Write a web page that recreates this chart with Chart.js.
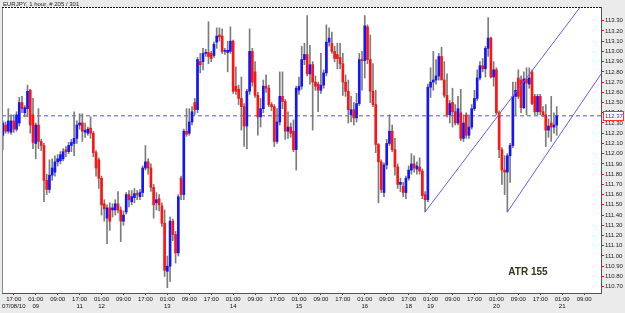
<!DOCTYPE html>
<html>
<head>
<title>EURJPY 1 hour</title>
<script src="https://cdn.jsdelivr.net/npm/chart.js"></script>
<style>
  html, body { margin: 0; padding: 0; background: #ebebeb; }
</style>
</head>
<body>
<canvas id="myChart" width="625" height="313"></canvas>
<script>
// hourly candles, bar 0 = 07/08/10 13:00
const barOpen = [
  112.18,112.28,112.22,112.21,112.32,112.24,112.30,112.50,112.40,112.44,
  112.62,112.38,112.10,112.28,112.12,112.08,111.74,111.65,111.79,111.82,
  111.92,111.93,111.95,112.04,112.02,112.08,112.10,112.15,112.28,112.30,
  112.21,112.20,112.25,112.20,112.01,111.94,111.76,111.51,111.37,111.47,
  111.45,111.45,111.51,111.45,111.34,111.43,111.60,111.53,111.57,111.61,
  111.58,111.62,111.86,111.92,111.86,111.67,111.52,111.56,111.49,111.32,
  110.85,110.90,111.34,111.21,111.03,111.76,111.60,112.22,112.20,112.31,
  112.50,112.43,112.90,112.90,112.98,112.99,112.98,112.96,113.09,113.16,
  113.15,113.00,112.99,113.00,113.10,112.66,112.63,112.54,112.46,112.27,
  112.61,113.00,112.80,112.57,112.36,112.44,112.66,112.64,112.48,112.46,
  112.12,112.31,112.56,112.51,112.22,112.26,112.22,112.04,112.62,112.66,
  112.92,112.97,112.78,112.87,112.70,112.68,112.62,112.67,112.79,113.09,
  113.08,113.00,112.97,112.94,112.88,112.70,112.61,112.38,112.43,112.35,
  112.49,112.92,112.91,113.24,112.92,112.61,112.48,112.09,111.92,111.62,
  111.89,112.10,112.22,112.04,111.87,111.70,111.68,111.62,111.76,111.84,
  111.90,111.85,111.87,111.83,111.60,111.55,112.65,112.70,112.72,112.76,
  112.95,112.72,112.57,112.38,112.50,112.41,112.30,112.40,112.15,112.38,
  112.18,112.26,112.44,112.54,112.74,112.86,112.83,113.03,113.13,112.75,
  112.82,112.40,112.04,111.84,111.82,111.98,112.08,112.56,112.74,112.72,
  112.45,112.73,112.68,112.80,112.56,112.41,112.56,112.41,112.38,112.23,
  112.30,112.26,112.28
];
const barHigh = [
  112.32,112.31,112.44,112.38,112.38,112.41,112.55,112.56,112.47,112.67,
  112.63,112.54,112.30,112.44,112.14,112.10,111.80,111.94,111.95,111.98,
  111.99,112.02,112.05,112.07,112.11,112.14,112.41,112.32,112.39,112.39,
  112.30,112.26,112.36,112.22,112.03,111.96,111.78,111.55,111.50,111.52,
  111.51,111.55,111.63,111.48,111.44,111.62,111.64,111.64,111.66,111.64,
  111.65,111.88,112.08,111.95,111.90,111.70,111.62,111.60,111.52,111.45,
  111.00,111.38,111.36,111.24,111.60,111.78,112.24,112.44,112.44,112.46,
  112.54,112.94,112.98,113.03,113.02,113.29,113.00,113.09,113.23,113.23,
  113.22,113.03,113.10,113.24,113.11,112.85,112.67,112.75,112.49,112.63,
  113.22,113.03,112.90,112.60,112.54,112.72,112.77,112.67,112.50,112.48,
  112.44,112.80,112.80,112.53,112.41,112.30,112.33,112.66,112.75,113.05,
  113.08,113.35,113.06,112.90,112.76,112.70,112.98,112.82,113.26,113.23,
  113.19,113.05,113.08,113.08,112.98,112.77,112.72,112.56,112.50,112.59,
  112.98,113.00,113.35,113.26,113.16,112.88,112.62,112.10,111.94,111.91,
  112.14,112.38,112.28,112.15,111.90,111.76,111.72,111.78,111.88,112.00,
  111.98,111.92,111.96,111.85,111.63,112.68,112.84,113.00,112.92,112.98,
  113.04,112.90,112.78,112.52,112.64,112.48,112.56,112.63,112.38,112.40,
  112.38,112.48,112.62,112.82,112.90,112.93,113.05,113.33,113.14,112.90,
  112.84,112.42,112.06,111.98,112.00,112.10,112.70,112.70,112.82,112.76,
  112.80,112.84,112.84,112.82,112.58,112.58,112.58,112.46,112.48,112.34,
  112.56,112.40,112.46
];
const barLow = [
  112.04,112.20,112.20,112.19,112.21,112.22,112.27,112.40,112.36,112.36,
  112.20,112.05,111.95,112.05,112.03,111.53,111.60,111.62,111.74,111.78,
  111.88,111.90,111.93,111.97,112.00,112.02,111.98,112.10,112.24,112.12,
  112.16,112.18,112.15,111.97,111.78,111.66,111.40,111.34,111.12,111.25,
  111.38,111.40,111.42,111.14,111.30,111.41,111.48,111.50,111.52,111.55,
  111.55,111.58,111.84,111.80,111.63,111.37,111.45,111.44,111.29,110.80,
  110.69,110.75,111.15,110.93,111.00,111.55,111.55,112.17,112.18,112.28,
  112.38,112.40,112.79,112.82,112.95,112.88,112.90,112.94,113.03,113.10,
  112.98,112.97,112.80,112.98,112.59,112.58,112.48,112.23,112.07,112.05,
  112.58,112.66,112.55,112.18,112.26,112.40,112.60,112.46,112.42,112.07,
  112.10,112.28,112.44,112.14,112.15,112.16,112.02,111.84,112.58,112.63,
  112.87,112.76,112.68,112.23,112.62,112.41,112.59,112.64,112.76,113.05,
  112.98,112.90,112.83,112.83,112.57,112.56,112.30,112.31,112.28,112.31,
  112.47,112.62,112.74,112.88,112.50,112.46,112.01,111.52,111.62,111.58,
  111.85,112.08,112.02,111.79,111.66,111.63,111.58,111.56,111.74,111.80,
  111.82,111.80,111.80,111.56,111.43,111.53,112.55,112.62,112.68,112.72,
  112.80,112.55,112.36,112.30,112.26,112.28,112.28,112.13,112.12,112.15,
  112.15,112.24,112.42,112.52,112.72,112.80,112.75,112.95,112.74,112.66,
  112.38,111.96,111.70,111.60,111.43,111.72,112.06,112.38,112.54,112.40,
  112.44,112.38,112.64,112.48,112.38,112.38,112.38,112.36,112.07,112.16,
  112.12,112.20,112.18
];
const barClose = [
  112.30,112.22,112.32,112.32,112.24,112.38,112.50,112.44,112.45,112.61,
  112.28,112.11,112.28,112.12,112.08,111.74,111.65,111.79,111.86,111.92,
  111.95,111.99,112.02,112.02,112.08,112.11,112.15,112.28,112.30,112.22,
  112.23,112.24,112.20,112.01,111.86,111.76,111.50,111.46,111.47,111.34,
  111.47,111.51,111.45,111.34,111.40,111.60,111.55,111.58,111.61,111.60,
  111.62,111.86,111.92,111.86,111.67,111.50,111.55,111.50,111.32,110.86,
  110.90,111.34,111.21,111.03,111.58,111.60,112.22,112.19,112.31,112.41,
  112.43,112.92,112.87,112.98,112.99,112.95,112.93,113.07,113.15,113.14,
  113.00,113.01,113.01,113.10,112.61,112.61,112.54,112.46,112.27,112.61,
  113.00,112.70,112.57,112.36,112.44,112.66,112.64,112.48,112.46,112.12,
  112.31,112.56,112.51,112.22,112.26,112.20,112.04,112.64,112.66,112.92,
  112.97,112.78,112.87,112.70,112.66,112.62,112.67,112.79,113.09,113.13,
  113.00,112.93,112.93,112.88,112.70,112.61,112.43,112.43,112.35,112.49,
  112.92,112.91,113.25,112.92,112.61,112.48,112.09,111.92,111.65,111.89,
  112.10,112.22,112.04,111.87,111.70,111.72,111.62,111.76,111.84,111.90,
  111.86,111.88,111.83,111.59,111.55,112.65,112.70,112.72,112.76,112.95,
  112.72,112.57,112.38,112.49,112.41,112.30,112.44,112.15,112.30,112.18,
  112.26,112.44,112.54,112.74,112.86,112.83,113.03,113.13,112.75,112.82,
  112.40,112.04,111.84,111.82,111.98,112.08,112.56,112.62,112.56,112.45,
  112.73,112.69,112.74,112.49,112.41,112.56,112.41,112.38,112.23,112.27,
  112.26,112.28,112.37
];

// time axis: a label every 8 bars
const tickBars = [4,12,20,28,36,44,52,60,68,76,84,92,100,108,116,124,132,140,148,156,164,172,180,188,196,204,212];
const timeLabels = ['17:00','01:00','09:00','17:00','01:00','09:00','17:00','01:00','09:00',
  '17:00','01:00','09:00','17:00','01:00','09:00','17:00','01:00','09:00',
  '17:00','01:00','09:00','17:00','01:00','09:00','17:00','01:00','09:00'];
const dayLabels = ['07/08/10','09','','11','12','','','13','','','14','','','15','','','16','',
  '18','19','','','20','','','21',''];

const priceTicks = [110.70,110.80,110.90,111.00,111.10,111.20,111.30,111.40,111.50,111.60,
  111.70,111.80,111.90,112.00,112.10,112.20,112.30,112.40,112.50,112.60,
  112.70,112.80,112.90,113.00,113.10,113.20,113.30];

const currentPrice = 112.37;
const chartTitle = 'EURJPY, 1 hour, # 205 / 301';
const atrText = 'ATR 155';

// two trend lines, [bar, price] at each end
const trendLine1 = [[154.0, 111.43], [210.5, 113.43]];
const trendLine2 = [[184.0, 111.43], [218.2, 112.78]];

const FONT = 'Liberation Sans, Arial, sans-serif';

const framePlugin = {
  id: 'frame',
  beforeDraw(chart) {
    const ctx = chart.ctx;
    const a = chart.chartArea;
    ctx.save();
    ctx.fillStyle = '#ebebeb';
    ctx.fillRect(0, 0, chart.width, chart.height);
    ctx.fillStyle = '#ffffff';
    ctx.fillRect(a.left, a.top, a.right - a.left, a.bottom - a.top);
    ctx.restore();
  },
  afterDraw(chart) {
    const ctx = chart.ctx;
    const a = chart.chartArea;
    ctx.save();
    // left and top edges of the plot
    ctx.strokeStyle = '#8a8a8a';
    ctx.lineWidth = 1;
    ctx.beginPath();
    ctx.moveTo(a.left + 0.5, a.top);
    ctx.lineTo(a.left + 0.5, a.bottom);
    ctx.stroke();
    ctx.strokeStyle = '#111';
    ctx.setLineDash([2, 1]);
    ctx.beginPath();
    ctx.moveTo(a.left, a.top + 0.5);
    ctx.lineTo(a.right, a.top + 0.5);
    ctx.stroke();
    ctx.setLineDash([]);

    // current price box on the right scale
    const py = Math.round(chart.scales.y.getPixelForValue(currentPrice));
    ctx.fillStyle = '#ffffff';
    ctx.fillRect(a.right + 2, py - 5, 21, 10);
    ctx.strokeStyle = '#ff3030';
    ctx.strokeRect(a.right + 2.5, py - 4.5, 20, 9);
    ctx.fillStyle = '#2a2ac8';
    ctx.font = '6px ' + FONT;
    ctx.textBaseline = 'middle';
    ctx.textAlign = 'left';
    ctx.fillText(currentPrice.toFixed(2), a.right + 4, py + 0.5);

    // title
    ctx.fillStyle = '#222';
    ctx.font = '6px ' + FONT;
    ctx.fillText(chartTitle, 3, 4);

    // ATR note
    ctx.fillStyle = '#35351a';
    ctx.font = 'bold 10px ' + FONT;
    ctx.textAlign = 'center';
    ctx.fillText(atrText, 528, 272);
    ctx.restore();
  }
};

const ctx = document.getElementById('myChart').getContext('2d');
new Chart(ctx, {
  type: 'bar',
  data: {
    datasets: [
      {
        type: 'line',
        data: [{x: -0.3, y: currentPrice}, {x: 218.2, y: currentPrice}],
        borderColor: '#4a4aff',
        borderWidth: 1,
        borderDash: [4, 3],
        pointRadius: 0,
        order: 4
      },
      {
        data: barLow.map((l, i) => ({x: i, y: [l, barHigh[i]]})),
        backgroundColor: '#7c7c7c',
        barThickness: 1,
        grouped: false,
        order: 3
      },
      {
        data: barOpen.map((o, i) => ({x: i, y: [o, barClose[i]]})),
        backgroundColor: barOpen.map((o, i) => barClose[i] >= o ? '#1414ff' : '#ff1414'),
        barThickness: 2,
        minBarLength: 1,
        grouped: false,
        order: 2
      },
      {
        type: 'line',
        data: trendLine1.map(p => ({x: p[0], y: p[1]})),
        borderColor: '#6060ff',
        borderWidth: 1,
        pointRadius: 0,
        order: 1
      },
      {
        type: 'line',
        data: trendLine2.map(p => ({x: p[0], y: p[1]})),
        borderColor: '#6060ff',
        borderWidth: 1,
        pointRadius: 0,
        order: 1
      }
    ]
  },
  options: {
    responsive: false,
    animation: false,
    devicePixelRatio: 1,
    layout: { padding: { left: 2, top: 7, right: 0, bottom: 0 } },
    plugins: {
      legend: { display: false },
      tooltip: { enabled: false }
    },
    scales: {
      x: {
        type: 'linear',
        offset: false,
        min: -0.3,
        max: 218.15,
        afterBuildTicks: axis => { axis.ticks = tickBars.map(v => ({value: v})); },
        afterFit: axis => { axis.height = 20; },
        ticks: {
          autoSkip: false,
          maxRotation: 0,
          padding: 0,
          color: '#111',
          font: { family: FONT, size: 6, lineHeight: 1.3 },
          callback: v => {
            const k = tickBars.indexOf(v);
            if (k < 0) return null;
            return dayLabels[k] ? [timeLabels[k], dayLabels[k]] : timeLabels[k];
          }
        },
        grid: { drawOnChartArea: false, offset: false, color: '#ff0000', tickLength: 2 },
        border: { color: '#555', width: 1 }
      },
      y: {
        type: 'linear',
        position: 'right',
        min: 110.638,
        max: 113.434,
        afterBuildTicks: axis => { axis.ticks = priceTicks.map(v => ({value: v})); },
        afterFit: axis => { axis.width = 24; },
        ticks: {
          padding: 1,
          color: '#222',
          font: { family: FONT, size: 6 },
          callback: v => v.toFixed(2)
        },
        grid: { drawOnChartArea: false, color: '#ff0000', tickLength: 3 },
        border: { color: '#555', width: 1 }
      }
    }
  },
  plugins: [framePlugin]
});
</script>
</body>
</html>
